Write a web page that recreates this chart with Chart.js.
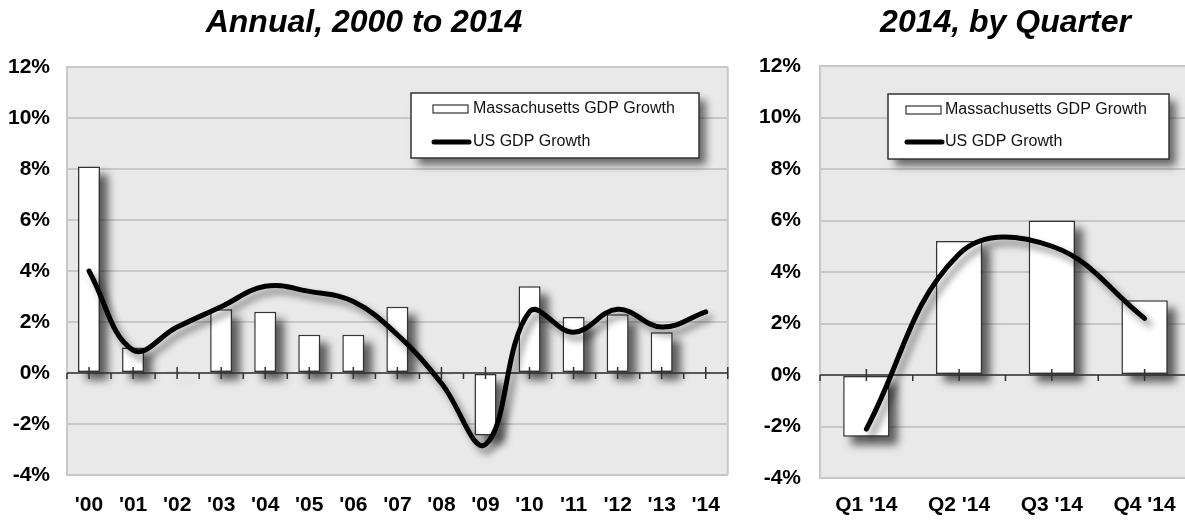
<!DOCTYPE html>
<html>
<head>
<meta charset="utf-8">
<script src="https://cdn.jsdelivr.net/npm/chart.js@4/dist/chart.umd.min.js"></script>
<style>
  html, body { margin: 0; padding: 0; background: #fff; overflow: hidden; }
  .panel { position: absolute; top: 0; height: 521px; }
  #annual-panel { left: 0; width: 730px; }
  #quarter-panel { left: 730px; width: 461px; }
</style>
</head>
<body>
<div class="panel" id="annual-panel"><canvas id="annual"></canvas></div>
<div class="panel" id="quarter-panel"><canvas id="quarterly"></canvas></div>
<script>
// annual growth, 2000-2014 (percent)
const years = ["'00", "'01", "'02", "'03", "'04", "'05", "'06", "'07", "'08", "'09", "'10", "'11", "'12", "'13", "'14"];
const maAnnual = [8.1, 1.0, 0.05, 2.5, 2.4, 1.5, 1.5, 2.6, -0.05, -2.45, 3.4, 2.2, 2.3, 1.6, null];
const usAnnual = [4.0, 0.9, 1.8, 2.6, 3.4, 3.2, 2.8, 1.5, -0.4, -2.8, 2.4, 1.6, 2.5, 1.8, 2.4];

// 2014 by quarter (percent, annualized)
const quarters = ["Q1 '14", "Q2 '14", "Q3 '14", "Q4 '14"];
const maQuarterly = [-2.4, 5.2, 6.0, 2.9];
const usQuarterly = [-2.1, 4.7, 5.0, 2.2];

const yMin = -4;
const yMax = 12;
const yStep = 2;

Chart.defaults.font.family = "'Liberation Sans', Arial, sans-serif";
Chart.defaults.color = '#000';

const chartDecor = {
    id: 'chartDecor',
    beforeDraw(chart) {
        const { ctx, chartArea } = chart;
        ctx.save();
        ctx.fillStyle = '#e9e9e9';
        ctx.fillRect(chartArea.left, chartArea.top, chartArea.right - chartArea.left, chartArea.bottom - chartArea.top);
        ctx.restore();
    },
    beforeDatasetsDraw(chart) {
        const { ctx, chartArea } = chart;
        ctx.save();
        ctx.strokeStyle = '#c8c8c8';
        ctx.lineWidth = 2;
        ctx.beginPath();
        ctx.moveTo(chartArea.right, chartArea.top);
        ctx.lineTo(chartArea.right, chartArea.bottom);
        ctx.stroke();
        ctx.restore();
    },
    beforeDatasetDraw(chart, args) {
        const ctx = chart.ctx;
        if (args.meta.type === 'bar') {
            drawBarShadows(chart, args);
        } else {
            ctx.save();
            ctx.shadowColor = 'rgba(0, 0, 0, 0.45)';
            ctx.shadowBlur = 7;
            ctx.shadowOffsetX = 5;
            ctx.shadowOffsetY = 6;
        }
    },
    afterDatasetDraw(chart, args) {
        if (args.meta.type === 'bar') {
            drawZeroAxis(chart);
        } else {
            chart.ctx.restore();
        }
    },
    afterDraw(chart, args, opts) {
        drawLegendBox(chart, opts);
    }
};

function drawBarShadows(chart, args) {
    const ctx = chart.ctx;
    const values = chart.data.datasets[args.index].data;
    ctx.save();
    ctx.filter = 'blur(4px)';
    ctx.fillStyle = 'rgba(0, 0, 0, 0.6)';
    args.meta.data.forEach((bar, i) => {
        if (values[i] == null) return;
        const p = bar.getProps(['x', 'y', 'base', 'width'], true);
        const top = Math.min(p.y, p.base);
        const h = Math.abs(p.base - p.y);
        ctx.fillRect(p.x - p.width / 2 + 8, top + 8, p.width, h);
    });
    ctx.restore();
}

function drawZeroAxis(chart) {
    const { ctx, chartArea, scales } = chart;
    const y0 = scales.y.getPixelForValue(0);
    const step = scales.x.getPixelForValue(1) - scales.x.getPixelForValue(0);
    ctx.save();
    ctx.strokeStyle = '#333';
    ctx.lineWidth = 1.5;
    ctx.beginPath();
    ctx.moveTo(chartArea.left, y0);
    ctx.lineTo(chartArea.right, y0);
    chart.data.labels.forEach((lbl, i) => {
        const cx = scales.x.getPixelForValue(i);
        ctx.moveTo(cx, y0 - 6);
        ctx.lineTo(cx, y0 + 6);
        ctx.moveTo(cx - step / 2, y0);
        ctx.lineTo(cx - step / 2, y0 + 6);
    });
    ctx.moveTo(chartArea.right, y0 - 6);
    ctx.lineTo(chartArea.right, y0 + 6);
    ctx.stroke();
    ctx.restore();
}

function drawLegendBox(chart, opts) {
    const { ctx, chartArea } = chart;
    const bx = chartArea.left + opts.left;
    const by = chartArea.top + opts.top;
    ctx.save();
    ctx.shadowColor = 'rgba(0, 0, 0, 0.55)';
    ctx.shadowBlur = 8;
    ctx.shadowOffsetX = 7;
    ctx.shadowOffsetY = 7;
    ctx.fillStyle = '#fff';
    ctx.fillRect(bx, by, opts.width, opts.height);
    ctx.shadowColor = 'transparent';
    ctx.strokeStyle = '#333';
    ctx.lineWidth = 1.5;
    ctx.strokeRect(bx, by, opts.width, opts.height);

    const [bars, line] = chart.data.datasets;
    const sx = bx + opts.swatchX;
    const tx = bx + opts.textX;
    const r1 = by + opts.row1;
    const r2 = by + opts.row2;

    ctx.fillStyle = '#fff';
    ctx.fillRect(sx, r1 - 4, 35, 8);
    ctx.lineWidth = 1.2;
    ctx.strokeRect(sx, r1 - 4, 35, 8);

    ctx.strokeStyle = '#000';
    ctx.lineWidth = 5;
    ctx.lineCap = 'round';
    ctx.beginPath();
    ctx.moveTo(sx + 1, r2);
    ctx.lineTo(sx + 36, r2);
    ctx.stroke();

    ctx.fillStyle = '#111';
    ctx.font = "16px 'Liberation Sans', Arial, sans-serif";
    ctx.textBaseline = 'middle';
    ctx.fillText(bars.label, tx, r1);
    ctx.fillText(line.label, tx, r2);
    ctx.restore();
}

function buildChart(canvasId, labels, maValues, usValues, layout) {
    return new Chart(document.getElementById(canvasId), {
        type: 'bar',
        data: {
            labels: labels,
            datasets: [
                {
                    type: 'bar',
                    label: 'Massachusetts GDP Growth',
                    data: maValues,
                    backgroundColor: '#fff',
                    borderColor: '#333',
                    borderWidth: 1.5,
                    borderSkipped: false,
                    barPercentage: 0.5,
                    categoryPercentage: 1,
                    order: 1
                },
                {
                    type: 'line',
                    label: 'US GDP Growth',
                    data: usValues,
                    borderColor: '#000',
                    borderWidth: 5,
                    tension: 0.4,
                    pointRadius: 0,
                    borderCapStyle: 'round',
                    borderJoinStyle: 'round',
                    order: 0
                }
            ]
        },
        options: {
            responsive: true,
            maintainAspectRatio: false,
            animation: false,
            layout: { padding: layout.padding },
            plugins: {
                legend: { display: false },
                tooltip: { enabled: false },
                title: {
                    display: true,
                    text: layout.title,
                    fullSize: layout.titleFullSize,
                    font: { size: 32, weight: 'bold', style: 'italic' },
                    color: '#000',
                    padding: { top: 4, bottom: layout.titleGap }
                },
                chartDecor: layout.legendBox
            },
            scales: {
                x: {
                    grid: { display: false },
                    border: { display: false },
                    ticks: {
                        font: { size: 21, weight: 'bold' },
                        color: '#000',
                        padding: layout.xPad,
                        maxRotation: 0,
                        autoSkip: false
                    },
                    afterFit: scale => { scale.height = layout.xHeight; }
                },
                y: {
                    min: yMin,
                    max: yMax,
                    ticks: {
                        stepSize: yStep,
                        callback: v => v + '%',
                        font: { size: 21, weight: 'bold' },
                        color: '#000',
                        padding: layout.yPad
                    },
                    grid: { color: '#c8c8c8', lineWidth: 2, drawTicks: false },
                    border: { color: '#c8c8c8', width: 2 },
                    afterFit: scale => { scale.width = layout.yWidth; }
                }
            }
        },
        plugins: [chartDecor]
    });
}

buildChart('annual', years, maAnnual, usAnnual, {
    title: 'Annual, 2000 to 2014',
    titleFullSize: true,
    titleGap: 24.6,
    padding: { left: 0, right: 2, top: 0, bottom: 0 },
    xHeight: 46,
    xPad: 10,
    yWidth: 67,
    yPad: 17,
    legendBox: { left: 344, top: 26, width: 288, height: 65, swatchX: 22, textX: 62, row1: 16, row2: 49 }
});

buildChart('quarterly', quarters, maQuarterly, usQuarterly, {
    title: '2014, by Quarter',
    titleFullSize: false,
    titleGap: 23.6,
    padding: { left: 0, right: 0, top: 0, bottom: 0 },
    xHeight: 43,
    xPad: 7,
    yWidth: 90,
    yPad: 19,
    legendBox: { left: 68, top: 28, width: 281, height: 65, swatchX: 18, textX: 57, row1: 16, row2: 48 }
});
</script>
</body>
</html>
